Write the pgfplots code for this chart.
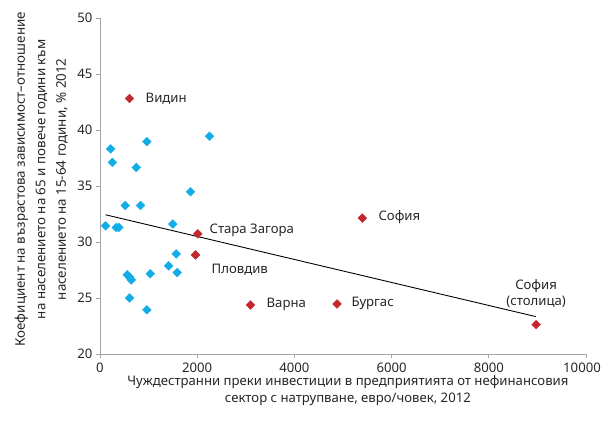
\documentclass[border=0pt]{standalone}
\usepackage{pgfplots}
\pgfplotsset{compat=1.18}
\usepackage{fontspec}
\setmainfont{Noto Sans}[Language=Bulgarian]
\definecolor{ptblue}{HTML}{12ACE6}
\definecolor{ptred}{HTML}{C4272E}
\definecolor{axgray}{HTML}{A6A6A6}
\definecolor{txt}{HTML}{262626}
\begin{document}
\begin{tikzpicture}[x=1bp,y=1bp]
\path[use as bounding box] (0,0) rectangle (603,425);
\begin{axis}[
  at={(100bp,71bp)}, anchor=south west,
  scale only axis, width=486bp, height=336bp,
  xmin=0, xmax=10000, ymin=20, ymax=50,
  xtick={0,2000,4000,6000,8000,10000},
  xticklabels={0,2000,4000,6000,8000,{\hbox to 0pt{\hss 10000\hss\hskip 8bp}}},
  ytick={20,25,30,35,40,45,50},
  scaled x ticks=false,
  axis x line*=bottom, axis y line*=left,
  axis line style={axgray, line width=0.8pt},
  tick style={axgray, line width=0.8pt},
  tick align=outside, major tick length=4bp,
  /pgf/number format/1000 sep={},
  /pgf/number format/assume math mode=true,
  ticklabel style={font=\fontsize{13.2}{16}\selectfont, text=txt},
  xticklabel style={yshift=-1bp},
  label style={text=txt, align=center},
  xlabel={Чуждестранни преки инвестиции в предприятията от нефинансовия\\сектор с натрупване, евро/човек, 2012},
  xlabel style={font=\fontsize{13.2}{17}\selectfont, at={(axis description cs:0.51,0)}, anchor=north, yshift=-18bp},
  ylabel={Коефициент на възрастова зависимост–отношение\\на населението на 65 и повече години към\\населението на 15-64 години, \% 2012},
  ylabel style={font=\fontsize{13.4}{20.5}\selectfont, at={(axis description cs:-0.121,0.52)}, anchor=center, rotate=0},
  clip=false,
]
\addplot[only marks, mark=square*, mark size=3.1bp, mark options={rotate=45, draw=ptblue, fill=ptblue}] coordinates {
(115,31.45) (218,38.31) (253,37.11) (335,31.30) (388,31.30)
(520,33.26) (561,27.07) (608,26.86) (643,26.62) (608,25.01)
(746,36.66) (835,33.26) (964,38.96) (964,23.94) (1034,27.16)
(1410,27.87) (1498,31.60) (1568,28.94) (1589,27.27) (1862,34.49)
(2253,39.44)
};
\addplot[only marks, mark=square*, mark size=3.1bp, mark options={rotate=45, draw=ptred, fill=ptred}] coordinates {
(608,42.81) (2013,30.73) (1965,28.85) (3096,24.38) (4877,24.47) (5398,32.14) (8974,22.62)
};
\addplot[black, line width=0.9pt] coordinates {(115,32.43) (8968,23.34)};
\begin{scope}[every node/.style={font=\fontsize{13.2}{16}\selectfont, text=txt, inner sep=0pt}]
\node[anchor=west] at (axis cs:937,42.8) {Видин};
\node[anchor=west] at (axis cs:2252,31.0) {Стара Загора};
\node[anchor=west] at (axis cs:2294,27.5) {Пловдив};
\node[anchor=west] at (axis cs:3425,24.4) {Варна};
\node[anchor=west] at (axis cs:5172,24.5) {Бургас};
\node[anchor=west] at (axis cs:5727,32.2) {София};
\node[align=center, font=\fontsize{13.2}{17}\selectfont] at (axis cs:8973,25.4) {София\\(столица)};
\end{scope}
\end{axis}
\end{tikzpicture}
\end{document}
